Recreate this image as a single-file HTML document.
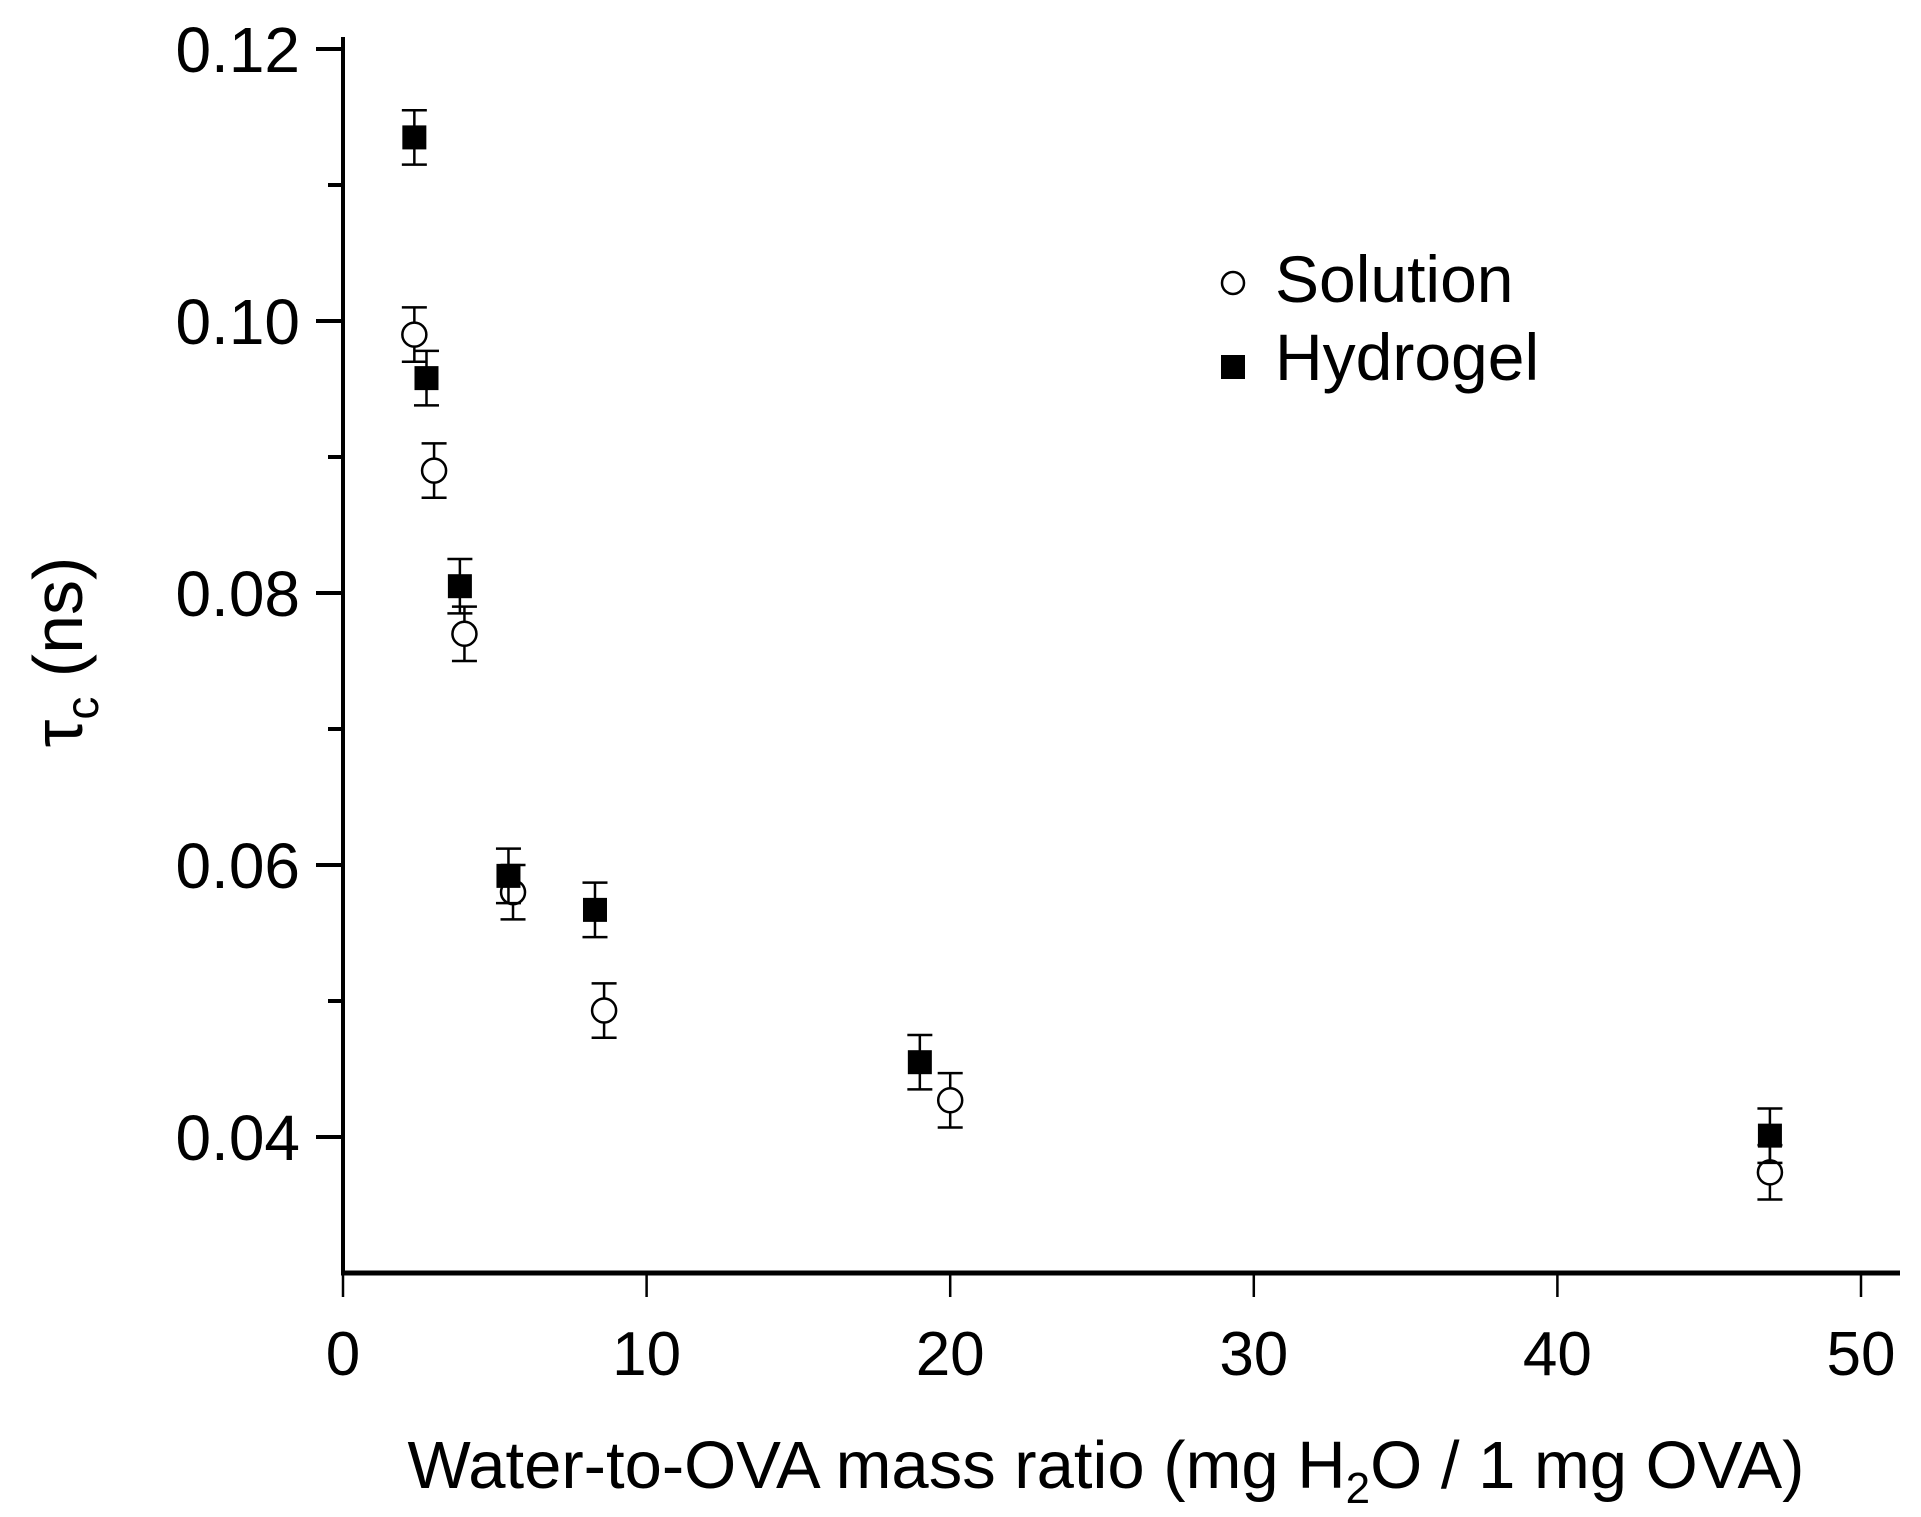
<!DOCTYPE html>
<html><head><meta charset="utf-8"><style>
html,body{margin:0;padding:0;background:#fff;}
svg{display:block;font-family:"Liberation Sans",Arial,sans-serif;}
</style></head><body>
<svg id="chart" width="1921" height="1517" viewBox="0 0 1921 1517">
<g id="axes"></g>
<g id="marks"></g>
<g>
<circle cx="1233" cy="283" r="11" fill="#fff" stroke="#000" stroke-width="2.5"/>
<text x="1275" y="302" font-size="66">Solution</text>
<rect x="1221" y="355" width="24" height="24" fill="#000"/>
<text x="1275" y="380" font-size="66">Hydrogel</text>
</g>
<text x="1106" y="1488" font-size="67" text-anchor="middle">Water-to-OVA mass ratio (mg H<tspan font-size="44" dy="15">2</tspan><tspan dy="-15">O / 1 mg OVA)</tspan></text>
<text transform="translate(82,652) rotate(-90)" font-size="70" text-anchor="middle">τ<tspan font-size="46" dy="16">c</tspan><tspan dy="-16"> (ns)</tspan></text>
</svg>
<script>
const xTicks=[0,10,20,30,40,50];
const yTicks=[0.04,0.06,0.08,0.10,0.12];
const yMinor=[0.05,0.07,0.09,0.11];
const yTickLabels=["0.04","0.06","0.08","0.10","0.12"];
const solX=[2.35,3.0,4.0,5.6,8.6,20.0,47.0];
const solY=[0.099,0.089,0.077,0.058,0.0493,0.0427,0.0374];
const solErr=[0.002,0.002,0.002,0.002,0.002,0.002,0.002];
const hydX=[2.35,2.75,3.85,5.45,8.3,19.0,47.0];
const hydY=[0.1135,0.0958,0.0805,0.0592,0.0567,0.0455,0.0401];
const hydErr=[0.002,0.002,0.002,0.002,0.002,0.002,0.002];

const NS="http://www.w3.org/2000/svg";
const X=v=>343+(v-0)*(1861-343)/50;
const Y=v=>49+(0.12-v)*(1137-49)/0.08;
const axes=document.getElementById('axes'), marks=document.getElementById('marks');
function mk(tag,attrs,parent){const e=document.createElementNS(NS,tag);for(const k in attrs)e.setAttribute(k,attrs[k]);parent.appendChild(e);return e;}
let e;
e=mk('line',{x1:343,y1:37,x2:343,y2:1273,stroke:'#000','stroke-width':4},axes);


e=mk('line',{x1:341,y1:1273,x2:1900,y2:1273,stroke:'#000','stroke-width':5},axes);


xTicks.forEach((t,i)=>{
  const l=mk('line',{x1:X(t),y1:1273,x2:X(t),y2:1297,stroke:'#000','stroke-width':2.5},axes);
  
  
  const tx=mk('text',{x:X(t),y:1375,'font-size':62,'text-anchor':'middle'},axes);
  tx.textContent=String(t);
  
  
});
yTicks.forEach((t,i)=>{
  const l=mk('line',{x1:316,y1:Y(t),x2:343,y2:Y(t),stroke:'#000','stroke-width':4},axes);
  
  
  const tx=mk('text',{x:300,y:Y(t)+23,'font-size':64,'text-anchor':'end'},axes);
  tx.textContent=yTickLabels[i];
  
  
});
yMinor.forEach(t=>{
  const l=mk('line',{x1:328,y1:Y(t),x2:343,y2:Y(t),stroke:'#000','stroke-width':4},axes);
  
  
});
function errbar(x,y,err,name){
  const g=mk('g',{stroke:'#000','stroke-width':2.5},marks);
  
  
  const cx=X(x),t=Y(y+err),b=Y(y-err);
  mk('line',{x1:cx,y1:t,x2:cx,y2:b},g);
  mk('line',{x1:cx-12.5,y1:t,x2:cx+12.5,y2:t},g);
  mk('line',{x1:cx-12.5,y1:b,x2:cx+12.5,y2:b},g);
}
solX.forEach((x,i)=>{
  errbar(x,solY[i],solErr[i],'solution-error-bar');
  const c=mk('circle',{cx:X(x),cy:Y(solY[i]),r:12,fill:'#fff',stroke:'#000','stroke-width':2.5},marks);
  
  
});
hydX.forEach((x,i)=>{
  errbar(x,hydY[i],hydErr[i],'hydrogel-error-bar');
  const r=mk('rect',{x:X(x)-12,y:Y(hydY[i])-12,width:24,height:24,fill:'#000'},marks);
  
  
});
</script>
</body></html>
